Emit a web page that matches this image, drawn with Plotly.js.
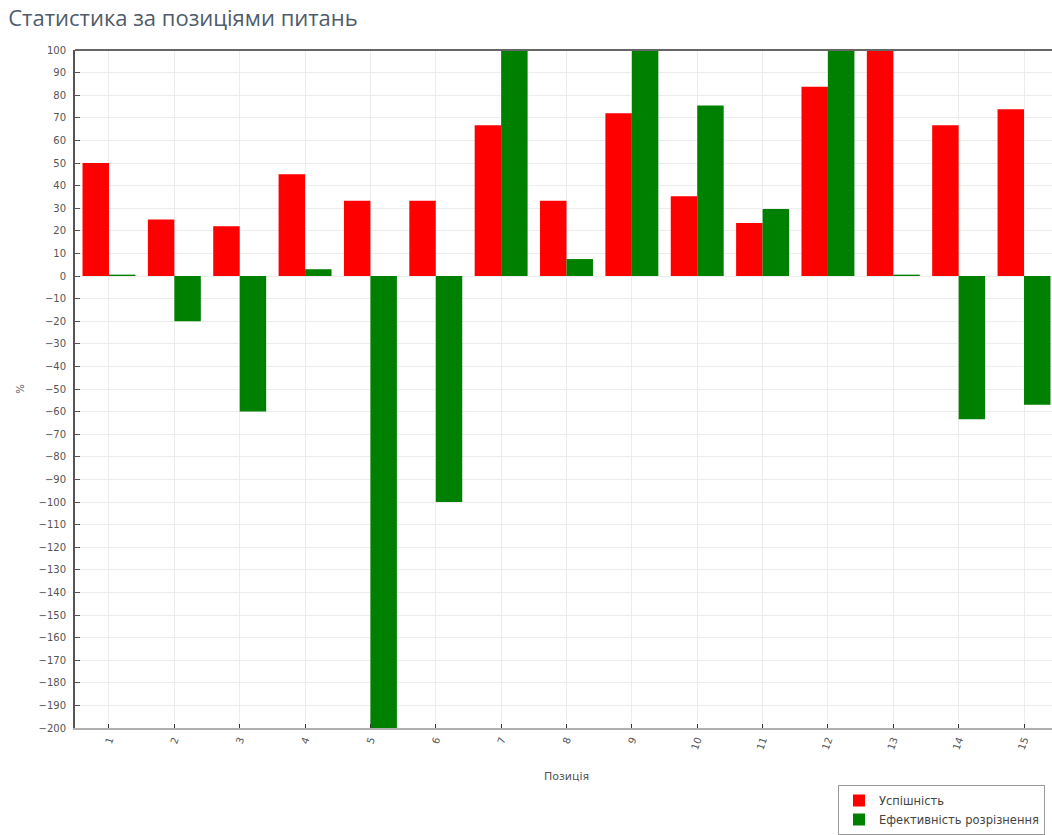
<!DOCTYPE html>
<html>
<head>
<meta charset="utf-8">
<script src="https://cdn.plot.ly/plotly-3.0.1.min.js"></script>
<style>
html,body{margin:0;padding:0;overflow:hidden;background:#fff;}
#chart{width:1100px;height:835px;}
</style>
</head>
<body>
<div id="chart"></div>
<script>
const categories = ['1','2','3','4','5','6','7','8','9','10','11','12','13','14','15'];
const successRate = [50, 25, 22, 45, 33.3, 33.3, 66.7, 33.3, 72, 35.3, 23.5, 83.7, 100, 66.7, 73.8];
const discrimination = [0.6, -20, -60, 3, -200, -100, 100, 7.5, 100, 75.4, 29.6, 100, 0.6, -63.4, -57];
const seriesNames = ['Успішність', 'Ефективність розрізнення'];
const yTicks = [];
for (let v = -200; v <= 100; v += 10) yTicks.push(v);

const traces = [
  {type:'bar', x:categories, y:successRate, name:seriesNames[0], marker:{color:'#ff0000'}, hoverinfo:'none'},
  {type:'bar', x:categories, y:discrimination, name:seriesNames[1], marker:{color:'#008000'}, hoverinfo:'none'}
];

const layout = {
  width:1100, height:835,
  margin:{l:75, r:42, t:50, b:107, autoexpand:false},
  paper_bgcolor:'#fff', plot_bgcolor:'#fff',
  font:{family:'DejaVu Sans, sans-serif', size:10, color:'#555'},
  title:{text:'Статистика за позиціями питань', x:0.0075, xanchor:'left', y:0.978, yanchor:'middle',
         font:{family:'Open Sans, sans-serif', size:22, color:'#4f5b6b'}},
  barmode:'group', bargap:0.19, bargroupgap:0,
  showlegend:true,
  legend:{xref:'container', yref:'container', x:838/1100, y:(835-785)/835, xanchor:'left', yanchor:'top',
          bgcolor:'#fff', bordercolor:'#999', borderwidth:1,
          font:{family:'DejaVu Sans, sans-serif', size:11.5, color:'#444'}, tracegroupgap:0, itemwidth:30},
  xaxis:{type:'category', range:[-0.52, 14.52], showgrid:true, gridcolor:'#ececec', gridwidth:1,
         showline:true, linecolor:'#b0b0b0', linewidth:2, ticks:'inside', ticklen:4, tickcolor:'#333',
         tickangle:-70, tickfont:{size:10, color:'#555'}, zeroline:false, fixedrange:true, automargin:false,
         title:{text:'Позиція', font:{size:11, color:'#555'}, standoff:22}},
  yaxis:{range:[-200, 100], tickvals:yTicks, showgrid:true, gridcolor:'#ececec', gridwidth:1,
         showline:true, linecolor:'#555', linewidth:2, ticks:'inside', ticklen:5, tickcolor:'#555',
         ticklabelstandoff:5, tickfont:{size:10, color:'#555'}, zeroline:false, fixedrange:true, automargin:false,
         title:{text:'%', font:{size:10, color:'#555'}, standoff:12}},
  shapes:[{type:'line', xref:'paper', yref:'paper', x0:0, x1:1, y0:1, y1:1, line:{color:'#666', width:2}}]
};

Plotly.newPlot('chart', traces, layout, {displayModeBar:false, staticPlot:true});
</script>
</body>
</html>
